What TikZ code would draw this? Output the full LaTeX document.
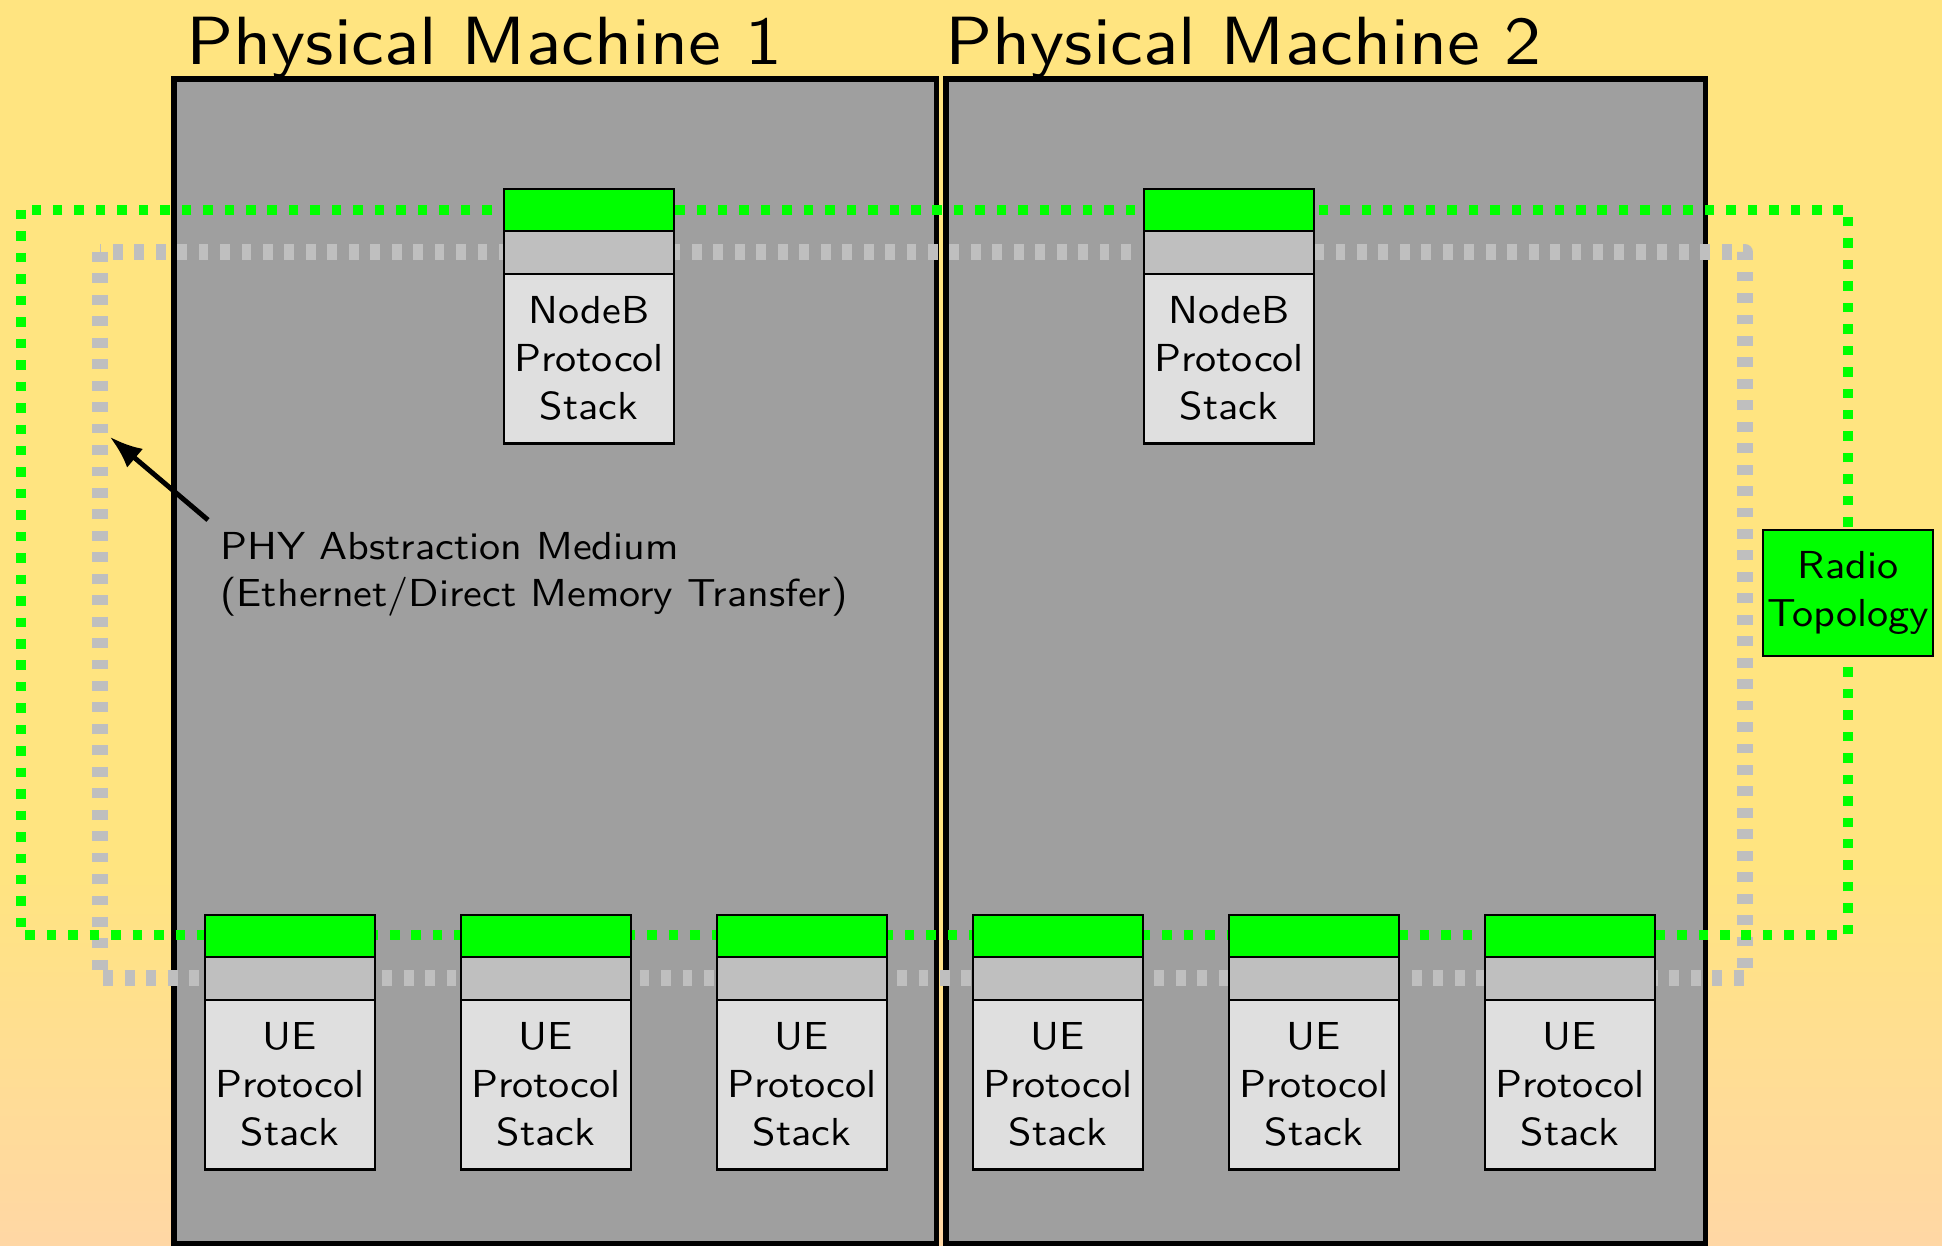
\documentclass[tikz,border=0pt]{standalone}
\usepackage{fontspec}
\usetikzlibrary{arrows.meta, positioning}

\newfontfamily\diagfont{lmsans10-regular.otf}[FakeStretch=1.08]

\definecolor{bgyellow}{RGB}{255,228,128}
\definecolor{bgpeach}{RGB}{255,215,165}
\definecolor{radiogreen}{RGB}{0,255,0}

\tikzset{
  machine/.style={draw=black, line width=1.6pt, fill=gray!75, outer sep=0pt,
    inner sep=0pt, anchor=north west},
  machinetitle/.style={inner sep=0pt, anchor=base west,
    font=\diagfont\fontsize{19.4}{23}\selectfont},
  stackpart/.style={draw=black, thick, minimum width=1.7cm, inner sep=0pt,
    outer sep=0pt, anchor=north},
  stacktop/.style={stackpart, fill=radiogreen, minimum height=0.42cm},
  stackmid/.style={stackpart, fill=lightgray, minimum height=0.43cm},
  stackbody/.style={stackpart, fill=gray!25, minimum height=1.69cm, align=center,
    font=\diagfont\fontsize{11.1}{13.7}\selectfont},
  radiobox/.style={draw=black, thick, fill=radiogreen, minimum width=1.7cm,
    minimum height=1.26cm, inner sep=0pt, align=center,
    font=\diagfont\fontsize{11.1}{13.7}\selectfont},
  greenloop/.style={radiogreen, line width=2.7pt, dash pattern=on 2.7pt off 3.4pt},
  grayloop/.style={lightgray, line width=4.4pt, dash pattern=on 2.8pt off 3.3pt,
    line join=round},
  phylabel/.style={align=left, anchor=north west,
    font=\diagfont\fontsize{11.1}{13.4}\selectfont},
  pointer/.style={line width=1.4pt, -{Latex}},
}

% one protocol stack: green radio part, gray PHY part, labelled body
\newcommand{\protostack}[3]{%
  \node[stacktop] (#1-top) at (#2) {};
  \node[stackmid, below=0pt of #1-top] (#1-mid) {};
  \node[stackbody, below=0pt of #1-mid] (#1-body) {#3};
}

\begin{document}
\begin{tikzpicture}[x=0.01cm, y=-0.01cm]
  \useasboundingbox (0,0) rectangle (1942,1246);

  % background
  \fill[bgyellow] (0,0) rectangle (1942,872);
  \shade[top color=bgyellow, bottom color=bgpeach] (0,870) rectangle (1942,1246);

  % machines
  \node[machine, minimum width=7.62cm, minimum height=11.64cm] (pm1) at (174,79) {};
  \node[machine, minimum width=7.59cm, minimum height=11.64cm] (pm2) at (946,79) {};
  \node[machinetitle] (title1) at (186,65) {Physical Machine 1};
  \node[machinetitle] (title2) at (945,65) {Physical Machine 2};

  % PHY medium and radio topology loops
  \coordinate (phytl) at (100,252);
  \coordinate (phybr) at (1745,978);
  \draw[grayloop] (phytl) rectangle (phybr);
  \coordinate (radiotl) at (21,210);
  \coordinate (radiobr) at (1848,935);
  \draw[greenloop] (radiotl) rectangle (radiobr);

  \node[radiobox] (radio) at (1848,593) {Radio\\Topology};

  % stacks
  \protostack{nb1}{589,189}{NodeB\\Protocol\\Stack}
  \protostack{nb2}{1229,189}{NodeB\\Protocol\\Stack}
  \foreach \i/\x in {1/290,2/546,3/802,4/1058,5/1314,6/1570} {
    \protostack{ue\i}{\x,915}{UE\\Protocol\\Stack}
  }

  % label for the medium
  \node[phylabel] (phy) at (208,520) {PHY Abstraction Medium\\(Ethernet/Direct Memory Transfer)};
  \coordinate (phytip) at (110,437);
  \draw[pointer] (phy.north west) -- (phytip);
\end{tikzpicture}
\end{document}
